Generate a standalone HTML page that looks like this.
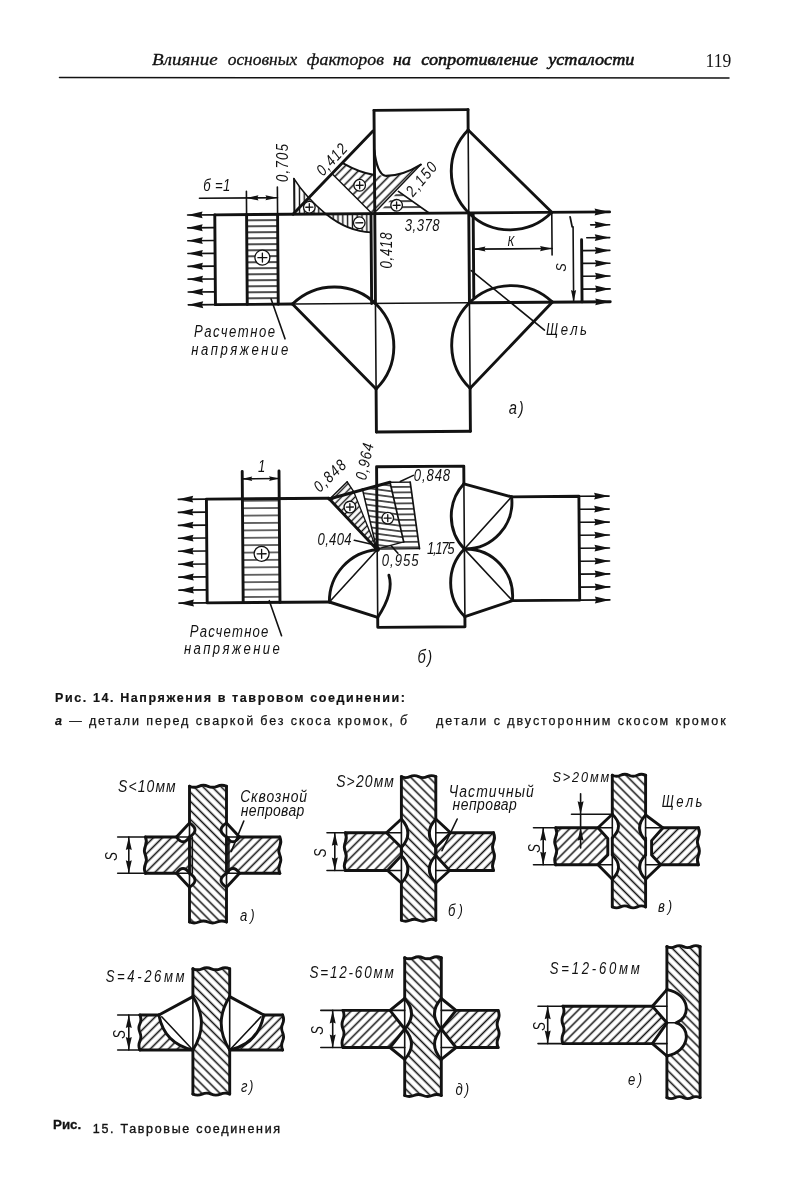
<!DOCTYPE html>
<html><head><meta charset="utf-8">
<style>
html,body{margin:0;padding:0;background:#fff;}
body{width:794px;height:1200px;overflow:hidden;position:relative;}
svg{position:absolute;left:0;top:0;will-change:transform;}
.dr{font-family:"Liberation Sans",sans-serif;font-style:italic;fill:#121212;}
.hd{font-family:"Liberation Serif",serif;font-style:italic;fill:#121212;}
.cap{font-family:"Liberation Sans",sans-serif;fill:#121212;}
</style></head><body>
<svg width="794" height="1200" viewBox="0 0 794 1200">
<g stroke="#121212" stroke-linecap="round" stroke-linejoin="round" fill="none">
<line x1="59.5" y1="77.6" x2="729" y2="77.9" stroke-width="1.5"/>
<defs>
<pattern id="hv" patternUnits="userSpaceOnUse" width="4.8" height="4.8" patternTransform="rotate(0)"><line x1="2.4" y1="0" x2="2.4" y2="4.8" stroke="#121212" stroke-width="1.4"/></pattern>
<pattern id="hh" patternUnits="userSpaceOnUse" width="6.0" height="6.0" patternTransform="rotate(90)"><line x1="3.0" y1="0" x2="3.0" y2="6.0" stroke="#121212" stroke-width="1.5"/></pattern>
<pattern id="hh7" patternUnits="userSpaceOnUse" width="7.4" height="7.4" patternTransform="rotate(90)"><line x1="3.7" y1="0" x2="3.7" y2="7.4" stroke="#121212" stroke-width="1.25"/></pattern>
<pattern id="h45" patternUnits="userSpaceOnUse" width="6.4" height="6.4" patternTransform="rotate(45)"><line x1="3.2" y1="0" x2="3.2" y2="6.4" stroke="#121212" stroke-width="1.55"/></pattern>
<pattern id="h135" patternUnits="userSpaceOnUse" width="6.4" height="6.4" patternTransform="rotate(-45)"><line x1="3.2" y1="0" x2="3.2" y2="6.4" stroke="#121212" stroke-width="1.55"/></pattern>
<pattern id="h45f" patternUnits="userSpaceOnUse" width="6.0" height="6.0" patternTransform="rotate(45)"><line x1="3.0" y1="0" x2="3.0" y2="6.0" stroke="#121212" stroke-width="1.4"/></pattern>
<pattern id="h135f" patternUnits="userSpaceOnUse" width="6.0" height="6.0" patternTransform="rotate(-45)"><line x1="3.0" y1="0" x2="3.0" y2="6.0" stroke="#121212" stroke-width="1.4"/></pattern>
<pattern id="h45s" patternUnits="userSpaceOnUse" width="4.8" height="4.8" patternTransform="rotate(45)"><line x1="2.4" y1="0" x2="2.4" y2="4.8" stroke="#121212" stroke-width="1.4"/></pattern>
<pattern id="hh55" patternUnits="userSpaceOnUse" width="5.5" height="5.5" patternTransform="rotate(90)"><line x1="2.75" y1="0" x2="2.75" y2="5.5" stroke="#121212" stroke-width="1.4"/></pattern>
<pattern id="hh98" patternUnits="userSpaceOnUse" width="5.5" height="5.5" patternTransform="rotate(98)"><line x1="2.75" y1="0" x2="2.75" y2="5.5" stroke="#121212" stroke-width="1.4"/></pattern>
</defs>
<g transform="rotate(-0.43 422 270)">
<rect x="247" y="213.3" width="31" height="89.80000000000001" fill="url(#hh)" stroke="none"/>
<path d="M294.6,177.6 L294.6,213.3 L326.4,213.3 Q306,196 294.6,177.6 Z" fill="url(#hv)" stroke="none"/>
<path d="M326.4,213.3 Q348,231 370.2,232 L371.4,232 L371.4,213.3 Z" fill="url(#hv)" stroke="none"/>
<path d="M333.8,174.2 L344,162.7 Q360,172 375.2,174.6 L375.2,213.3 L372.6,213.3 Z" fill="url(#h45)" stroke="none"/>
<path d="M375.2,174.6 L385.9,175.5 Q403,176 421.6,164.6 L376.9,210.5 L375.2,210.5 Z" fill="url(#h45)" stroke="none"/>
<path d="M378.2,213.3 L399,191.2 L429.8,213.3 Z" fill="url(#hh)" stroke="none"/>
<line x1="375.2" y1="110.0" x2="469.2" y2="110.0" stroke-width="2.9"/>
<line x1="375.2" y1="431.6" x2="469.2" y2="431.6" stroke-width="2.9"/>
<line x1="375.2" y1="110.0" x2="375.2" y2="303.1" stroke-width="2.9"/>
<line x1="375.2" y1="303.1" x2="375.2" y2="388.6" stroke-width="1.6"/>
<line x1="375.2" y1="388.6" x2="375.2" y2="431.6" stroke-width="2.9"/>
<line x1="469.2" y1="110.0" x2="469.2" y2="130.3" stroke-width="2.9"/>
<line x1="469.2" y1="130.3" x2="469.2" y2="213.3" stroke-width="1.6"/>
<line x1="469.2" y1="213.3" x2="469.2" y2="303.1" stroke-width="2.9"/>
<line x1="469.2" y1="303.1" x2="469.2" y2="388.6" stroke-width="1.6"/>
<line x1="469.2" y1="388.6" x2="469.2" y2="431.6" stroke-width="2.9"/>
<line x1="215.2" y1="213.3" x2="610.0" y2="213.3" stroke-width="2.9"/>
<line x1="215.2" y1="303.1" x2="292.2" y2="303.1" stroke-width="2.9"/>
<line x1="292.2" y1="303.1" x2="469.2" y2="303.1" stroke-width="1.6"/>
<line x1="469.2" y1="303.1" x2="610.0" y2="303.1" stroke-width="2.9"/>
<line x1="215.2" y1="213.3" x2="215.2" y2="303.1" stroke-width="2.9"/>
<line x1="371.4" y1="213.3" x2="371.4" y2="303.1" stroke-width="2.9"/>
<line x1="473.6" y1="215.0" x2="473.6" y2="298.0" stroke-width="2.9"/>
<line x1="247.0" y1="213.3" x2="247.0" y2="303.1" stroke-width="2.9"/>
<line x1="278.0" y1="213.3" x2="278.0" y2="303.1" stroke-width="2.9"/>
<line x1="247.0" y1="190.0" x2="247.0" y2="213.3" stroke-width="1.6"/>
<line x1="278.0" y1="186.0" x2="278.0" y2="213.3" stroke-width="1.6"/>
<circle cx="262.5" cy="256.4" r="7.5" fill="#fff" stroke-width="1.3"/>
<line x1="258.0" y1="256.4" x2="267.0" y2="256.4" stroke-width="1.3"/>
<line x1="262.5" y1="251.9" x2="262.5" y2="260.9" stroke-width="1.3"/>
<line x1="188.0" y1="213.3" x2="215.2" y2="213.3" stroke-width="1.6"/>
<path d="M188.0,213.3 L203.0,209.9 L201.8,213.3 L203.0,216.7 Z" fill="#121212" stroke="none"/>
<line x1="188.0" y1="226.1" x2="215.2" y2="226.1" stroke-width="1.6"/>
<path d="M188.0,226.1 L203.0,222.7 L201.8,226.1 L203.0,229.5 Z" fill="#121212" stroke="none"/>
<line x1="188.0" y1="239.0" x2="215.2" y2="239.0" stroke-width="1.6"/>
<path d="M188.0,239.0 L203.0,235.6 L201.8,239.0 L203.0,242.4 Z" fill="#121212" stroke="none"/>
<line x1="188.0" y1="251.8" x2="215.2" y2="251.8" stroke-width="1.6"/>
<path d="M188.0,251.8 L203.0,248.4 L201.8,251.8 L203.0,255.2 Z" fill="#121212" stroke="none"/>
<line x1="188.0" y1="264.6" x2="215.2" y2="264.6" stroke-width="1.6"/>
<path d="M188.0,264.6 L203.0,261.2 L201.8,264.6 L203.0,268.0 Z" fill="#121212" stroke="none"/>
<line x1="188.0" y1="277.4" x2="215.2" y2="277.4" stroke-width="1.6"/>
<path d="M188.0,277.4 L203.0,274.0 L201.8,277.4 L203.0,280.8 Z" fill="#121212" stroke="none"/>
<line x1="188.0" y1="290.3" x2="215.2" y2="290.3" stroke-width="1.6"/>
<path d="M188.0,290.3 L203.0,286.9 L201.8,290.3 L203.0,293.7 Z" fill="#121212" stroke="none"/>
<line x1="188.0" y1="303.1" x2="215.2" y2="303.1" stroke-width="1.6"/>
<path d="M188.0,303.1 L203.0,299.7 L201.8,303.1 L203.0,306.5 Z" fill="#121212" stroke="none"/>
<line x1="200.0" y1="196.6" x2="278.0" y2="196.6" stroke-width="1.6"/>
<path d="M247.0,196.6 L259.0,194.0 L257.8,196.6 L259.0,199.2 Z" fill="#121212" stroke="none"/>
<path d="M278.0,196.6 L266.0,199.2 L267.2,196.6 L266.0,194.0 Z" fill="#121212" stroke="none"/>
<line x1="581.8" y1="241.0" x2="581.8" y2="303.1" stroke-width="2.9"/>
<line x1="552.2" y1="213.3" x2="610.0" y2="213.3" stroke-width="1.6"/>
<path d="M610.0,213.3 L595.0,216.7 L596.2,213.3 L595.0,209.9 Z" fill="#121212" stroke="none"/>
<line x1="591.0" y1="226.1" x2="610.0" y2="226.1" stroke-width="1.6"/>
<path d="M610.0,226.1 L595.0,229.5 L596.2,226.1 L595.0,222.7 Z" fill="#121212" stroke="none"/>
<line x1="587.0" y1="239.0" x2="610.0" y2="239.0" stroke-width="1.6"/>
<path d="M610.0,239.0 L595.0,242.4 L596.2,239.0 L595.0,235.6 Z" fill="#121212" stroke="none"/>
<line x1="581.8" y1="251.8" x2="610.0" y2="251.8" stroke-width="1.6"/>
<path d="M610.0,251.8 L595.0,255.2 L596.2,251.8 L595.0,248.4 Z" fill="#121212" stroke="none"/>
<line x1="581.8" y1="264.6" x2="610.0" y2="264.6" stroke-width="1.6"/>
<path d="M610.0,264.6 L595.0,268.0 L596.2,264.6 L595.0,261.2 Z" fill="#121212" stroke="none"/>
<line x1="581.8" y1="277.4" x2="610.0" y2="277.4" stroke-width="1.6"/>
<path d="M610.0,277.4 L595.0,280.8 L596.2,277.4 L595.0,274.0 Z" fill="#121212" stroke="none"/>
<line x1="581.8" y1="290.3" x2="610.0" y2="290.3" stroke-width="1.6"/>
<path d="M610.0,290.3 L595.0,293.7 L596.2,290.3 L595.0,286.9 Z" fill="#121212" stroke="none"/>
<line x1="581.8" y1="303.1" x2="610.0" y2="303.1" stroke-width="1.6"/>
<path d="M610.0,303.1 L595.0,306.5 L596.2,303.1 L595.0,299.7 Z" fill="#121212" stroke="none"/>
<line x1="552.2" y1="213.3" x2="552.2" y2="256.0" stroke-width="1.6"/>
<line x1="473.6" y1="249.5" x2="552.2" y2="249.5" stroke-width="1.6"/>
<path d="M473.6,249.5 L485.6,246.9 L484.4,249.5 L485.6,252.1 Z" fill="#121212" stroke="none"/>
<path d="M552.2,249.5 L540.2,252.1 L541.4,249.5 L540.2,246.9 Z" fill="#121212" stroke="none"/>
<line x1="573.4" y1="228.0" x2="573.4" y2="303.1" stroke-width="1.6"/>
<path d="M573.4,303.1 L570.8,291.1 L573.4,292.3 L576.0,291.1 Z" fill="#121212" stroke="none"/>
<line x1="570.5" y1="218.0" x2="572.5" y2="228.0" stroke-width="1.8"/>
<line x1="469.2" y1="130.3" x2="552.2" y2="213.3" stroke-width="2.9"/>
<path d="M469.2,130.3 A58.68986283848344,58.68986283848344 0 0 0 552.2,213.3" stroke-width="2.9" fill="none" />
<line x1="469.2" y1="388.6" x2="552.2" y2="303.1" stroke-width="2.9"/>
<path d="M469.2,388.6 A59.58030295324118,59.58030295324118 0 0 1 552.2,303.1" stroke-width="2.9" fill="none" />
<line x1="375.2" y1="388.6" x2="292.2" y2="303.1" stroke-width="2.9"/>
<path d="M375.2,388.6 A59.58030295324118,59.58030295324118 0 0 0 292.2,303.1" stroke-width="2.9" fill="none" />
<line x1="374.0" y1="130.6" x2="293.4" y2="213.3" stroke-width="2.9"/>
<line x1="471.3" y1="270.9" x2="544.0" y2="331.0" stroke-width="1.6"/>
<line x1="270.8" y1="297.7" x2="284.5" y2="337.8" stroke-width="1.6"/>
<line x1="294.6" y1="177.6" x2="294.6" y2="213.3" stroke-width="1.6"/>
<path d="M294.6,177.6 Q306,196 326.4,213.3" stroke-width="1.6" fill="none" />
<circle cx="309.8" cy="206.4" r="5.8" fill="#fff" stroke-width="1.3"/>
<line x1="306.3" y1="206.4" x2="313.3" y2="206.4" stroke-width="1.3"/>
<line x1="309.8" y1="202.9" x2="309.8" y2="209.9" stroke-width="1.3"/>
<path d="M326.4,213.3 Q348,231 371.4,232" stroke-width="1.8" fill="none" />
<circle cx="359.6" cy="222.3" r="5.8" fill="#fff" stroke-width="1.3"/>
<line x1="356.1" y1="222.3" x2="363.1" y2="222.3" stroke-width="1.3"/>
<path d="M344,162.7 Q360,172 375.2,174.6" stroke-width="2.0" fill="none" />
<line x1="333.8" y1="174.2" x2="372.6" y2="213.3" stroke-width="1.4"/>
<circle cx="360.3" cy="184.8" r="5.8" fill="#fff" stroke-width="1.3"/>
<line x1="356.8" y1="184.8" x2="363.8" y2="184.8" stroke-width="1.3"/>
<line x1="360.3" y1="181.3" x2="360.3" y2="188.3" stroke-width="1.3"/>
<path d="M375.2,150 C377,166 380,174 385.9,175.5 Q403,176 421.6,164.6" stroke-width="2.2" fill="none" />
<line x1="421.6" y1="164.6" x2="376.9" y2="210.5" stroke-width="1.4"/>
<line x1="399.0" y1="191.2" x2="429.8" y2="213.3" stroke-width="1.6"/>
<circle cx="397.1" cy="205.1" r="5.8" fill="#fff" stroke-width="1.3"/>
<line x1="393.6" y1="205.1" x2="400.6" y2="205.1" stroke-width="1.3"/>
<line x1="397.1" y1="201.6" x2="397.1" y2="208.6" stroke-width="1.3"/>
</g>
<g transform="rotate(-0.43 422 550)">
<path d="M329.0,497.5 L206.8,497.5 L206.8,601.3 L329.0,601.3" stroke-width="2.9" fill="none" />
<rect x="242.8" y="497.5" width="36.8" height="103.79999999999995" fill="url(#hh7)" stroke="none"/>
<line x1="242.8" y1="470.0" x2="242.8" y2="601.3" stroke-width="2.9"/>
<line x1="279.6" y1="470.0" x2="279.6" y2="601.3" stroke-width="2.9"/>
<circle cx="261.6" cy="552.6" r="7.5" fill="#fff" stroke-width="1.3"/>
<line x1="257.1" y1="552.6" x2="266.1" y2="552.6" stroke-width="1.3"/>
<line x1="261.6" y1="548.1" x2="261.6" y2="557.1" stroke-width="1.3"/>
<line x1="178.6" y1="497.5" x2="206.8" y2="497.5" stroke-width="1.6"/>
<path d="M178.6,497.5 L193.6,494.1 L192.4,497.5 L193.6,500.9 Z" fill="#121212" stroke="none"/>
<line x1="178.6" y1="510.5" x2="206.8" y2="510.5" stroke-width="1.6"/>
<path d="M178.6,510.5 L193.6,507.1 L192.4,510.5 L193.6,513.9 Z" fill="#121212" stroke="none"/>
<line x1="178.6" y1="523.5" x2="206.8" y2="523.5" stroke-width="1.6"/>
<path d="M178.6,523.5 L193.6,520.1 L192.4,523.5 L193.6,526.9 Z" fill="#121212" stroke="none"/>
<line x1="178.6" y1="536.4" x2="206.8" y2="536.4" stroke-width="1.6"/>
<path d="M178.6,536.4 L193.6,533.0 L192.4,536.4 L193.6,539.8 Z" fill="#121212" stroke="none"/>
<line x1="178.6" y1="549.4" x2="206.8" y2="549.4" stroke-width="1.6"/>
<path d="M178.6,549.4 L193.6,546.0 L192.4,549.4 L193.6,552.8 Z" fill="#121212" stroke="none"/>
<line x1="178.6" y1="562.4" x2="206.8" y2="562.4" stroke-width="1.6"/>
<path d="M178.6,562.4 L193.6,559.0 L192.4,562.4 L193.6,565.8 Z" fill="#121212" stroke="none"/>
<line x1="178.6" y1="575.3" x2="206.8" y2="575.3" stroke-width="1.6"/>
<path d="M178.6,575.3 L193.6,571.9 L192.4,575.3 L193.6,578.7 Z" fill="#121212" stroke="none"/>
<line x1="178.6" y1="588.3" x2="206.8" y2="588.3" stroke-width="1.6"/>
<path d="M178.6,588.3 L193.6,584.9 L192.4,588.3 L193.6,591.7 Z" fill="#121212" stroke="none"/>
<line x1="178.6" y1="601.3" x2="206.8" y2="601.3" stroke-width="1.6"/>
<path d="M178.6,601.3 L193.6,597.9 L192.4,601.3 L193.6,604.7 Z" fill="#121212" stroke="none"/>
<line x1="242.8" y1="477.5" x2="279.6" y2="477.5" stroke-width="1.6"/>
<path d="M242.8,477.5 L252.8,475.2 L251.6,477.5 L252.8,479.8 Z" fill="#121212" stroke="none"/>
<path d="M279.6,477.5 L269.6,479.8 L270.8,477.5 L269.6,475.2 Z" fill="#121212" stroke="none"/>
<path d="M377.2,549.4 L377.2,466.4 L464.4,466.4 L464.4,484.1" stroke-width="2.9" fill="none" />
<path d="M377.2,617.0 L377.2,627.0 L464.4,627.0 L464.4,617.0" stroke-width="2.9" fill="none" />
<line x1="377.2" y1="549.4" x2="377.2" y2="617.0" stroke-width="1.6"/>
<line x1="464.4" y1="484.1" x2="464.4" y2="617.0" stroke-width="1.6"/>
<line x1="329.0" y1="497.5" x2="377.2" y2="549.4" stroke-width="2.9"/>
<line x1="329.0" y1="601.3" x2="377.2" y2="617.0" stroke-width="2.9"/>
<line x1="329.0" y1="601.3" x2="377.2" y2="549.4" stroke-width="1.6"/>
<path d="M377.2,549.4 A51.7,51.7 0 0 0 329.0,601.3" stroke-width="2.9" fill="none" />
<path d="M388.7,575 Q394,592 377.2,617" stroke-width="2.9" fill="none" />
<line x1="464.4" y1="484.1" x2="512.0" y2="497.5" stroke-width="2.9"/>
<line x1="464.4" y1="617.0" x2="512.0" y2="601.3" stroke-width="2.9"/>
<line x1="464.4" y1="549.4" x2="512.0" y2="497.5" stroke-width="1.6"/>
<line x1="464.4" y1="549.4" x2="512.0" y2="601.3" stroke-width="1.6"/>
<path d="M464.4,484.1 A47.8,47.8 0 0 0 464.4,549.4" stroke-width="2.9" fill="none" />
<path d="M464.4,549.4 A47.8,47.8 0 0 0 464.4,617.0" stroke-width="2.9" fill="none" />
<path d="M464.4,549.4 A47,47 0 0 0 512.0,497.5" stroke-width="2.9" fill="none" />
<path d="M464.4,549.4 A47,47 0 0 1 512.0,601.3" stroke-width="2.9" fill="none" />
<path d="M512.0,497.5 L579.3,497.5 L579.3,601.3 L512.0,601.3" stroke-width="2.9" fill="none" />
<line x1="579.3" y1="497.5" x2="609.5" y2="497.5" stroke-width="1.6"/>
<path d="M609.5,497.5 L594.5,500.9 L595.7,497.5 L594.5,494.1 Z" fill="#121212" stroke="none"/>
<line x1="579.3" y1="510.5" x2="609.5" y2="510.5" stroke-width="1.6"/>
<path d="M609.5,510.5 L594.5,513.9 L595.7,510.5 L594.5,507.1 Z" fill="#121212" stroke="none"/>
<line x1="579.3" y1="523.5" x2="609.5" y2="523.5" stroke-width="1.6"/>
<path d="M609.5,523.5 L594.5,526.9 L595.7,523.5 L594.5,520.1 Z" fill="#121212" stroke="none"/>
<line x1="579.3" y1="536.4" x2="609.5" y2="536.4" stroke-width="1.6"/>
<path d="M609.5,536.4 L594.5,539.8 L595.7,536.4 L594.5,533.0 Z" fill="#121212" stroke="none"/>
<line x1="579.3" y1="549.4" x2="609.5" y2="549.4" stroke-width="1.6"/>
<path d="M609.5,549.4 L594.5,552.8 L595.7,549.4 L594.5,546.0 Z" fill="#121212" stroke="none"/>
<line x1="579.3" y1="562.4" x2="609.5" y2="562.4" stroke-width="1.6"/>
<path d="M609.5,562.4 L594.5,565.8 L595.7,562.4 L594.5,559.0 Z" fill="#121212" stroke="none"/>
<line x1="579.3" y1="575.3" x2="609.5" y2="575.3" stroke-width="1.6"/>
<path d="M609.5,575.3 L594.5,578.7 L595.7,575.3 L594.5,571.9 Z" fill="#121212" stroke="none"/>
<line x1="579.3" y1="588.3" x2="609.5" y2="588.3" stroke-width="1.6"/>
<path d="M609.5,588.3 L594.5,591.7 L595.7,588.3 L594.5,584.9 Z" fill="#121212" stroke="none"/>
<line x1="579.3" y1="601.3" x2="609.5" y2="601.3" stroke-width="1.6"/>
<path d="M609.5,601.3 L594.5,604.7 L595.7,601.3 L594.5,597.9 Z" fill="#121212" stroke="none"/>
<path d="M329.4,498.3 L347.7,481.3 L354,490.8 L376.7,548.7 Z" fill="url(#h45s)" stroke="none"/>
<path d="M390.5,482 L410.7,482 L419.5,548.7 L376.7,548.7 L403.8,541.8 Z" fill="url(#hh55)" stroke="none"/>
<path d="M362.8,488.5 L390.5,482 L403.8,541.8 L376.7,548.7 Z" fill="url(#hh98)" stroke="none"/>
<line x1="331.3" y1="497.0" x2="347.7" y2="481.3" stroke-width="1.4"/>
<line x1="347.7" y1="481.3" x2="354.0" y2="490.8" stroke-width="1.4"/>
<line x1="354.0" y1="490.8" x2="376.7" y2="548.7" stroke-width="1.3"/>
<line x1="362.8" y1="488.5" x2="376.7" y2="548.7" stroke-width="1.5"/>
<line x1="390.5" y1="482.0" x2="403.8" y2="541.8" stroke-width="1.7"/>
<line x1="403.8" y1="541.8" x2="376.7" y2="548.7" stroke-width="1.3"/>
<line x1="390.5" y1="482.0" x2="410.7" y2="482.0" stroke-width="1.3"/>
<line x1="410.7" y1="482.0" x2="419.5" y2="548.7" stroke-width="1.7"/>
<line x1="376.7" y1="548.7" x2="419.5" y2="548.7" stroke-width="1.3"/>
<line x1="329.4" y1="498.3" x2="390.5" y2="482.0" stroke-width="2.9"/>
<circle cx="350.2" cy="506.5" r="5.8" fill="#fff" stroke-width="1.3"/>
<line x1="346.7" y1="506.5" x2="353.7" y2="506.5" stroke-width="1.3"/>
<line x1="350.2" y1="503.0" x2="350.2" y2="510.0" stroke-width="1.3"/>
<circle cx="388" cy="517.9" r="5.8" fill="#fff" stroke-width="1.3"/>
<line x1="384.5" y1="517.9" x2="391.5" y2="517.9" stroke-width="1.3"/>
<line x1="388.0" y1="514.4" x2="388.0" y2="521.4" stroke-width="1.3"/>
<circle cx="377" cy="548.6" r="3" fill="#121212" stroke="none"/>
<line x1="354.4" y1="539.8" x2="376.0" y2="545.0" stroke-width="1.6"/>
<line x1="400.8" y1="481.3" x2="413.9" y2="475.3" stroke-width="1.6"/>
<line x1="268.9" y1="599.5" x2="280.9" y2="634.6" stroke-width="1.6"/>
</g>
<text x="0" y="0" class="dr" font-size="16" stroke="none" transform="translate(203.3 191) scale(0.82 1)"  textLength="32.93" lengthAdjust="spacing">б =1</text>
<text x="0" y="0" class="dr" font-size="14" stroke="none" transform="translate(507.6 245.5) scale(0.82 1)"  textLength="9.76" lengthAdjust="spacing">К</text>
<text x="0" y="0" class="dr" font-size="15" text-anchor="middle" dominant-baseline="central" stroke="none" transform="translate(561.5 267.3) rotate(-90) scale(0.82 1)" >S</text>
<text x="0" y="0" class="dr" font-size="16" stroke="none" transform="translate(546 335.2) scale(0.82 1)"  textLength="50.00" lengthAdjust="spacing">Щель</text>
<text x="0" y="0" class="dr" font-size="18" stroke="none" transform="translate(508.8 413.9) scale(0.82 1)"  textLength="18.29" lengthAdjust="spacing">а)</text>
<text x="0" y="0" class="dr" font-size="16" stroke="none" transform="translate(194 337.3) scale(0.82 1)"  textLength="98.78" lengthAdjust="spacing">Расчетное</text>
<text x="0" y="0" class="dr" font-size="16" stroke="none" transform="translate(191.2 354.6) scale(0.82 1)"  textLength="118.29" lengthAdjust="spacing">напряжение</text>
<text x="0" y="0" class="dr" font-size="16" text-anchor="middle" dominant-baseline="central" stroke="none" transform="translate(282.5 163) rotate(-90) scale(0.82 1)"  textLength="46.34" lengthAdjust="spacing">0,705</text>
<text x="0" y="0" class="dr" font-size="16" text-anchor="middle" dominant-baseline="central" stroke="none" transform="translate(331.5 159.5) rotate(-47) scale(0.82 1)"  textLength="45.12" lengthAdjust="spacing">0,412</text>
<text x="0" y="0" class="dr" font-size="16" text-anchor="middle" dominant-baseline="central" stroke="none" transform="translate(421.3 179) rotate(-50) scale(0.82 1)"  textLength="47.56" lengthAdjust="spacing">2,150</text>
<text x="0" y="0" class="dr" font-size="16" stroke="none" transform="translate(404.8 230.8) scale(0.82 1)"  textLength="42.44" lengthAdjust="spacing">3,378</text>
<text x="0" y="0" class="dr" font-size="16" text-anchor="middle" dominant-baseline="central" stroke="none" transform="translate(386.5 250.5) rotate(-90) scale(0.82 1)"  textLength="43.90" lengthAdjust="spacing">0,418</text>
<text x="0" y="0" class="dr" font-size="16" stroke="none" transform="translate(258 471.5) scale(0.82 1)"  textLength="7.32" lengthAdjust="spacing">1</text>
<text x="0" y="0" class="dr" font-size="16" stroke="none" transform="translate(317.6 544.8) scale(0.82 1)"  textLength="41.46" lengthAdjust="spacing">0,404</text>
<text x="0" y="0" class="dr" font-size="16" stroke="none" transform="translate(381.8 565.6) scale(0.82 1)"  textLength="44.88" lengthAdjust="spacing">0,955</text>
<text x="0" y="0" class="dr" font-size="16" stroke="none" transform="translate(427.1 554.3) scale(0.82 1)"  textLength="33.41" lengthAdjust="spacing">1,175</text>
<text x="0" y="0" class="dr" font-size="16" text-anchor="middle" dominant-baseline="central" stroke="none" transform="translate(329.7 475.8) rotate(-44) scale(0.82 1)"  textLength="46.34" lengthAdjust="spacing">0,848</text>
<text x="0" y="0" class="dr" font-size="16" text-anchor="middle" dominant-baseline="central" stroke="none" transform="translate(364.5 461.6) rotate(-78) scale(0.82 1)"  textLength="45.12" lengthAdjust="spacing">0,964</text>
<text x="0" y="0" class="dr" font-size="16" stroke="none" transform="translate(413.8 481.3) scale(0.82 1)"  textLength="44.27" lengthAdjust="spacing">0,848</text>
<text x="0" y="0" class="dr" font-size="16" stroke="none" transform="translate(189.8 637.3) scale(0.82 1)"  textLength="95.85" lengthAdjust="spacing">Расчетное</text>
<text x="0" y="0" class="dr" font-size="16" stroke="none" transform="translate(183.9 654.3) scale(0.82 1)"  textLength="117.07" lengthAdjust="spacing">напряжение</text>
<text x="0" y="0" class="dr" font-size="18" stroke="none" transform="translate(417.4 662.5) scale(0.82 1)"  textLength="17.93" lengthAdjust="spacing">б)</text>
<line x1="391.2" y1="545.8" x2="397.9" y2="553.3" stroke-width="1.6"/>
<path d="M145.4,837.0 L189.5,837.0 L189.5,873.3 L145.4,873.3 Z" fill="url(#h45)" stroke="none"/>
<path d="M226.5,837.0 L279.8,837.0 L279.8,873.3 L226.5,873.3 Z" fill="url(#h45)" stroke="none"/>
<rect x="189.5" y="786.3" width="37.0" height="135.70000000000005" fill="url(#h135)" stroke="none"/>
<path d="M189.5,786.3 Q194.1,788.3 198.8,786.3 Q203.4,784.3 208.0,786.3 Q212.6,788.3 217.2,786.3 Q221.9,784.3 226.5,786.3" stroke-width="2.9" fill="none" />
<path d="M189.5,922.0 Q194.1,924.0 198.8,922.0 Q203.4,920.0 208.0,922.0 Q212.6,924.0 217.2,922.0 Q221.9,920.0 226.5,922.0" stroke-width="2.9" fill="none" />
<path d="M176.5,837.0 L189.5,823.0 L189.5,837.0 Z" fill="#fff" stroke="none"/>
<path d="M189.5,823.0 Q200.5,830.0 189.5,837.0 Z" fill="#fff" stroke="none"/>
<path d="M189.5,823.0 Q200.5,830.0 189.5,837.0" stroke-width="2.9" fill="none" />
<line x1="189.5" y1="823.0" x2="189.5" y2="837.0" stroke-width="1.6"/>
<path d="M176.5,837.0 Q183.0,846.6 189.5,837.0 Z" fill="#fff" stroke="none"/>
<path d="M176.5,837.0 Q183.0,846.6 189.5,837.0" stroke-width="2.9" fill="none" />
<line x1="176.5" y1="837.0" x2="189.5" y2="837.0" stroke-width="1.6"/>
<line x1="176.5" y1="837.0" x2="189.5" y2="823.0" stroke-width="2.9"/>
<path d="M176.5,873.3 L189.5,887.3 L189.5,873.3 Z" fill="#fff" stroke="none"/>
<path d="M189.5,887.3 Q200.5,880.3 189.5,873.3 Z" fill="#fff" stroke="none"/>
<path d="M189.5,887.3 Q200.5,880.3 189.5,873.3" stroke-width="2.9" fill="none" />
<line x1="189.5" y1="887.3" x2="189.5" y2="873.3" stroke-width="1.6"/>
<path d="M176.5,873.3 Q183.0,863.7 189.5,873.3 Z" fill="#fff" stroke="none"/>
<path d="M176.5,873.3 Q183.0,863.7 189.5,873.3" stroke-width="2.9" fill="none" />
<line x1="176.5" y1="873.3" x2="189.5" y2="873.3" stroke-width="1.6"/>
<line x1="176.5" y1="873.3" x2="189.5" y2="887.3" stroke-width="2.9"/>
<path d="M239.5,837.0 L226.5,823.0 L226.5,837.0 Z" fill="#fff" stroke="none"/>
<path d="M226.5,823.0 Q215.5,830.0 226.5,837.0 Z" fill="#fff" stroke="none"/>
<path d="M226.5,823.0 Q215.5,830.0 226.5,837.0" stroke-width="2.9" fill="none" />
<line x1="226.5" y1="823.0" x2="226.5" y2="837.0" stroke-width="1.6"/>
<path d="M239.5,837.0 Q233.0,846.6 226.5,837.0 Z" fill="#fff" stroke="none"/>
<path d="M239.5,837.0 Q233.0,846.6 226.5,837.0" stroke-width="2.9" fill="none" />
<line x1="239.5" y1="837.0" x2="226.5" y2="837.0" stroke-width="1.6"/>
<line x1="239.5" y1="837.0" x2="226.5" y2="823.0" stroke-width="2.9"/>
<path d="M239.5,873.3 L226.5,887.3 L226.5,873.3 Z" fill="#fff" stroke="none"/>
<path d="M226.5,887.3 Q215.5,880.3 226.5,873.3 Z" fill="#fff" stroke="none"/>
<path d="M226.5,887.3 Q215.5,880.3 226.5,873.3" stroke-width="2.9" fill="none" />
<line x1="226.5" y1="887.3" x2="226.5" y2="873.3" stroke-width="1.6"/>
<path d="M239.5,873.3 Q233.0,863.7 226.5,873.3 Z" fill="#fff" stroke="none"/>
<path d="M239.5,873.3 Q233.0,863.7 226.5,873.3" stroke-width="2.9" fill="none" />
<line x1="239.5" y1="873.3" x2="226.5" y2="873.3" stroke-width="1.6"/>
<line x1="239.5" y1="873.3" x2="226.5" y2="887.3" stroke-width="2.9"/>
<line x1="189.5" y1="786.3" x2="189.5" y2="823.0" stroke-width="2.9"/>
<line x1="189.5" y1="837.0" x2="189.5" y2="873.3" stroke-width="2.9"/>
<line x1="189.5" y1="887.3" x2="189.5" y2="922.0" stroke-width="2.9"/>
<line x1="226.5" y1="786.3" x2="226.5" y2="823.0" stroke-width="2.9"/>
<line x1="226.5" y1="837.0" x2="226.5" y2="873.3" stroke-width="2.9"/>
<line x1="226.5" y1="887.3" x2="226.5" y2="922.0" stroke-width="2.9"/>
<line x1="192.3" y1="837.0" x2="192.3" y2="873.3" stroke-width="1.6"/>
<line x1="228.9" y1="837.0" x2="228.9" y2="873.3" stroke-width="1.6"/>
<line x1="145.4" y1="837.0" x2="176.5" y2="837.0" stroke-width="2.9"/>
<line x1="145.4" y1="873.3" x2="176.5" y2="873.3" stroke-width="2.9"/>
<line x1="239.5" y1="837.0" x2="279.8" y2="837.0" stroke-width="2.9"/>
<line x1="239.5" y1="873.3" x2="279.8" y2="873.3" stroke-width="2.9"/>
<path d="M145.4,837.0 Q147.4,841.5 145.4,846.1 Q143.4,850.6 145.4,855.1 Q147.4,859.7 145.4,864.2 Q143.4,868.8 145.4,873.3" stroke-width="2.9" fill="none" />
<path d="M279.8,837.0 Q281.8,841.5 279.8,846.1 Q277.8,850.6 279.8,855.1 Q281.8,859.7 279.8,864.2 Q277.8,868.8 279.8,873.3" stroke-width="2.9" fill="none" />
<line x1="117.7" y1="837.0" x2="145.4" y2="837.0" stroke-width="1.6"/>
<line x1="117.7" y1="873.3" x2="145.4" y2="873.3" stroke-width="1.6"/>
<line x1="128.8" y1="837.0" x2="128.8" y2="873.3" stroke-width="1.6"/>
<path d="M128.8,837.0 L131.8,850.0 L128.8,848.8 L125.8,850.0 Z" fill="#121212" stroke="none"/>
<path d="M128.8,873.3 L125.8,860.3 L128.8,861.5 L131.8,860.3 Z" fill="#121212" stroke="none"/>
<text x="0" y="0" class="dr" font-size="16" text-anchor="middle" dominant-baseline="central" stroke="none" transform="translate(112 856.5) rotate(-90) scale(0.82 1)" >S</text>
<text x="0" y="0" class="dr" font-size="17" stroke="none" transform="translate(118.1 791.7) scale(0.82 1)"  textLength="70.12" lengthAdjust="spacing">S&lt;10мм</text>
<text x="0" y="0" class="dr" font-size="17" stroke="none" transform="translate(240.2 801.5) scale(0.82 1)"  textLength="81.59" lengthAdjust="spacing">Сквозной</text>
<text x="0" y="0" class="dr" font-size="17" stroke="none" transform="translate(240.8 816.3) scale(0.82 1)"  textLength="77.44" lengthAdjust="spacing">непровар</text>
<line x1="243.8" y1="821.0" x2="231.3" y2="851.4" stroke-width="1.6"/>
<text x="0" y="0" class="dr" font-size="16" stroke="none" transform="translate(240.1 921.2) scale(0.82 1)"  textLength="17.80" lengthAdjust="spacing">а)</text>
<path d="M345.3,832.8 L386.5,832.8 L401.4,847.5 L401.4,855.5 L387.5,870.5 L345.3,870.5 Z" fill="url(#h45)" stroke="none"/>
<path d="M493.5,832.8 L450.6,832.8 L435.8,847.5 L435.8,855.5 L449.6,870.5 L493.5,870.5 Z" fill="url(#h45)" stroke="none"/>
<rect x="401.4" y="776.6" width="34.400000000000034" height="143.60000000000002" fill="url(#h135)" stroke="none"/>
<path d="M401.4,776.6 Q405.7,778.6 410.0,776.6 Q414.3,774.6 418.6,776.6 Q422.9,778.6 427.2,776.6 Q431.5,774.6 435.8,776.6" stroke-width="2.9" fill="none" />
<path d="M401.4,920.2 Q405.7,922.2 410.0,920.2 Q414.3,918.2 418.6,920.2 Q422.9,922.2 427.2,920.2 Q431.5,918.2 435.8,920.2" stroke-width="2.9" fill="none" />
<path d="M401.4,819.0 Q414.4,833.2 401.4,847.5 Z" fill="#fff" stroke="none"/>
<path d="M401.4,819.0 Q414.4,833.2 401.4,847.5" stroke-width="2.9" fill="none" />
<line x1="401.4" y1="819.0" x2="401.4" y2="847.5" stroke-width="1.6"/>
<path d="M401.4,855.5 Q414.4,869.2 401.4,883.0 Z" fill="#fff" stroke="none"/>
<path d="M401.4,855.5 Q414.4,869.2 401.4,883.0" stroke-width="2.9" fill="none" />
<line x1="401.4" y1="855.5" x2="401.4" y2="883.0" stroke-width="1.6"/>
<line x1="386.5" y1="832.8" x2="401.4" y2="819.0" stroke-width="2.9"/>
<line x1="387.5" y1="870.5" x2="401.4" y2="883.0" stroke-width="2.9"/>
<line x1="386.5" y1="832.8" x2="401.4" y2="832.8" stroke-width="1.6"/>
<line x1="387.5" y1="870.5" x2="401.4" y2="870.5" stroke-width="1.6"/>
<path d="M435.8,819.0 Q422.8,833.2 435.8,847.5 Z" fill="#fff" stroke="none"/>
<path d="M435.8,819.0 Q422.8,833.2 435.8,847.5" stroke-width="2.9" fill="none" />
<line x1="435.8" y1="819.0" x2="435.8" y2="847.5" stroke-width="1.6"/>
<path d="M435.8,855.5 Q422.8,869.2 435.8,883.0 Z" fill="#fff" stroke="none"/>
<path d="M435.8,855.5 Q422.8,869.2 435.8,883.0" stroke-width="2.9" fill="none" />
<line x1="435.8" y1="855.5" x2="435.8" y2="883.0" stroke-width="1.6"/>
<line x1="450.6" y1="832.8" x2="435.8" y2="819.0" stroke-width="2.9"/>
<line x1="449.6" y1="870.5" x2="435.8" y2="883.0" stroke-width="2.9"/>
<line x1="450.6" y1="832.8" x2="435.8" y2="832.8" stroke-width="1.6"/>
<line x1="449.6" y1="870.5" x2="435.8" y2="870.5" stroke-width="1.6"/>
<path d="M345.3,832.8 L386.5,832.8 L401.4,847.5 L401.4,855.5 L387.5,870.5 L345.3,870.5" stroke-width="2.9" fill="none" />
<path d="M345.3,832.8 Q347.3,837.5 345.3,842.2 Q343.3,846.9 345.3,851.6 Q347.3,856.4 345.3,861.1 Q343.3,865.8 345.3,870.5" stroke-width="2.9" fill="none" />
<path d="M493.5,832.8 L450.6,832.8 L435.8,847.5 L435.8,855.5 L449.6,870.5 L493.5,870.5" stroke-width="2.9" fill="none" />
<path d="M493.5,832.8 Q495.5,837.5 493.5,842.2 Q491.5,846.9 493.5,851.6 Q495.5,856.4 493.5,861.1 Q491.5,865.8 493.5,870.5" stroke-width="2.9" fill="none" />
<line x1="401.4" y1="776.6" x2="401.4" y2="819.0" stroke-width="2.9"/>
<line x1="401.4" y1="883.0" x2="401.4" y2="920.2" stroke-width="2.9"/>
<line x1="401.4" y1="847.5" x2="401.4" y2="855.5" stroke-width="2.9"/>
<line x1="435.8" y1="776.6" x2="435.8" y2="819.0" stroke-width="2.9"/>
<line x1="435.8" y1="883.0" x2="435.8" y2="920.2" stroke-width="2.9"/>
<line x1="435.8" y1="847.5" x2="435.8" y2="855.5" stroke-width="2.9"/>
<line x1="327.0" y1="832.8" x2="345.3" y2="832.8" stroke-width="1.6"/>
<line x1="327.0" y1="870.5" x2="345.3" y2="870.5" stroke-width="1.6"/>
<line x1="334.8" y1="832.8" x2="334.8" y2="870.5" stroke-width="1.6"/>
<path d="M334.8,832.8 L337.8,845.8 L334.8,844.6 L331.8,845.8 Z" fill="#121212" stroke="none"/>
<path d="M334.8,870.5 L331.8,857.5 L334.8,858.7 L337.8,857.5 Z" fill="#121212" stroke="none"/>
<text x="0" y="0" class="dr" font-size="16" text-anchor="middle" dominant-baseline="central" stroke="none" transform="translate(321 853.0) rotate(-90) scale(0.82 1)" >S</text>
<text x="0" y="0" class="dr" font-size="17" stroke="none" transform="translate(336.2 787.2) scale(0.82 1)"  textLength="70.37" lengthAdjust="spacing">S&gt;20мм</text>
<text x="0" y="0" class="dr" font-size="17" stroke="none" transform="translate(448.8 797) scale(0.82 1)"  textLength="103.66" lengthAdjust="spacing">Частичный</text>
<text x="0" y="0" class="dr" font-size="17" stroke="none" transform="translate(452.6 809.6) scale(0.82 1)"  textLength="78.29" lengthAdjust="spacing">непровар</text>
<line x1="457.2" y1="819.0" x2="442.0" y2="850.7" stroke-width="1.6"/>
<text x="0" y="0" class="dr" font-size="16" stroke="none" transform="translate(448 916.2) scale(0.82 1)"  textLength="18.29" lengthAdjust="spacing">б)</text>
<path d="M555.7,827.8 L598.0,827.8 L607.8,838.4 L607.8,855.0 L598.0,864.8 L555.7,864.8 Z" fill="url(#h45)" stroke="none"/>
<path d="M698.4,827.8 L663.0,827.8 L651.6,840.6 L651.6,855.0 L660.7,864.8 L698.4,864.8 Z" fill="url(#h45)" stroke="none"/>
<rect x="612.3" y="775.2" width="33.30000000000007" height="131.69999999999993" fill="url(#h135)" stroke="none"/>
<path d="M612.3,775.2 Q616.5,777.2 620.6,775.2 Q624.8,773.2 629.0,775.2 Q633.1,777.2 637.3,775.2 Q641.4,773.2 645.6,775.2" stroke-width="2.9" fill="none" />
<path d="M612.3,906.9 Q616.5,908.9 620.6,906.9 Q624.8,904.9 629.0,906.9 Q633.1,908.9 637.3,906.9 Q641.4,904.9 645.6,906.9" stroke-width="2.9" fill="none" />
<path d="M598.0,827.8 L612.3,814.2 L612.3,879.2 L598.0,864.8 L607.8,855.0 L607.8,838.4 Z" fill="#fff" stroke="none"/>
<path d="M663.0,827.8 L645.6,815.0 L645.6,879.2 L660.7,864.8 L651.6,855.0 L651.6,840.6 Z" fill="#fff" stroke="none"/>
<path d="M612.3,814.2 Q624.7,826.1 612.3,838.0 Z" fill="#fff" stroke="none"/>
<path d="M612.3,814.2 Q624.7,826.1 612.3,838.0" stroke-width="2.9" fill="none" />
<line x1="612.3" y1="814.2" x2="612.3" y2="838.0" stroke-width="1.6"/>
<path d="M612.3,855.0 Q624.7,867.1 612.3,879.2 Z" fill="#fff" stroke="none"/>
<path d="M612.3,855.0 Q624.7,867.1 612.3,879.2" stroke-width="2.9" fill="none" />
<line x1="612.3" y1="855.0" x2="612.3" y2="879.2" stroke-width="1.6"/>
<path d="M645.6,815.0 Q633.6,827.8 645.6,840.6 Z" fill="#fff" stroke="none"/>
<path d="M645.6,815.0 Q633.6,827.8 645.6,840.6" stroke-width="2.9" fill="none" />
<line x1="645.6" y1="815.0" x2="645.6" y2="840.6" stroke-width="1.6"/>
<path d="M645.6,855.0 Q633.6,867.1 645.6,879.2 Z" fill="#fff" stroke="none"/>
<path d="M645.6,855.0 Q633.6,867.1 645.6,879.2" stroke-width="2.9" fill="none" />
<line x1="645.6" y1="855.0" x2="645.6" y2="879.2" stroke-width="1.6"/>
<line x1="598.0" y1="827.8" x2="612.3" y2="814.2" stroke-width="2.9"/>
<line x1="598.0" y1="864.8" x2="612.3" y2="879.2" stroke-width="2.9"/>
<line x1="645.6" y1="815.0" x2="663.0" y2="827.8" stroke-width="2.9"/>
<line x1="645.6" y1="879.2" x2="660.7" y2="864.8" stroke-width="2.9"/>
<line x1="598.0" y1="827.8" x2="612.3" y2="827.8" stroke-width="1.6"/>
<line x1="598.0" y1="864.8" x2="612.3" y2="864.8" stroke-width="1.6"/>
<line x1="663.0" y1="827.8" x2="645.6" y2="827.8" stroke-width="1.6"/>
<line x1="660.7" y1="864.8" x2="645.6" y2="864.8" stroke-width="1.6"/>
<path d="M555.7,827.8 L598.0,827.8 L607.8,838.4 L607.8,855.0 L598.0,864.8 L555.7,864.8" stroke-width="2.9" fill="none" />
<path d="M555.7,827.8 Q557.7,832.4 555.7,837.0 Q553.7,841.7 555.7,846.3 Q557.7,850.9 555.7,855.5 Q553.7,860.2 555.7,864.8" stroke-width="2.9" fill="none" />
<path d="M698.4,827.8 L663.0,827.8 L651.6,840.6 L651.6,855.0 L660.7,864.8 L698.4,864.8" stroke-width="2.9" fill="none" />
<path d="M698.4,827.8 Q700.4,832.4 698.4,837.0 Q696.4,841.7 698.4,846.3 Q700.4,850.9 698.4,855.5 Q696.4,860.2 698.4,864.8" stroke-width="2.9" fill="none" />
<line x1="612.3" y1="775.2" x2="612.3" y2="814.2" stroke-width="2.9"/>
<line x1="612.3" y1="879.2" x2="612.3" y2="906.9" stroke-width="2.9"/>
<line x1="612.3" y1="838.0" x2="612.3" y2="855.0" stroke-width="2.9"/>
<line x1="645.6" y1="775.2" x2="645.6" y2="815.0" stroke-width="2.9"/>
<line x1="645.6" y1="879.2" x2="645.6" y2="906.9" stroke-width="2.9"/>
<line x1="645.6" y1="838.0" x2="645.6" y2="855.0" stroke-width="2.9"/>
<line x1="533.5" y1="827.8" x2="555.7" y2="827.8" stroke-width="1.6"/>
<line x1="533.5" y1="864.8" x2="555.7" y2="864.8" stroke-width="1.6"/>
<line x1="543.2" y1="827.8" x2="543.2" y2="864.8" stroke-width="1.6"/>
<path d="M543.2,827.8 L546.2,840.8 L543.2,839.6 L540.2,840.8 Z" fill="#121212" stroke="none"/>
<path d="M543.2,864.8 L540.2,851.8 L543.2,853.0 L546.2,851.8 Z" fill="#121212" stroke="none"/>
<text x="0" y="0" class="dr" font-size="16" text-anchor="middle" dominant-baseline="central" stroke="none" transform="translate(535 848.5) rotate(-90) scale(0.82 1)" >S</text>
<line x1="571.5" y1="814.2" x2="612.3" y2="814.2" stroke-width="1.6"/>
<line x1="580.6" y1="793.8" x2="580.6" y2="848.0" stroke-width="1.6"/>
<path d="M580.6,814.2 L577.6,801.2 L580.6,802.4 L583.6,801.2 Z" fill="#121212" stroke="none"/>
<path d="M580.6,827.8 L583.6,840.8 L580.6,839.6 L577.6,840.8 Z" fill="#121212" stroke="none"/>
<text x="0" y="0" class="dr" font-size="15.5" stroke="none" transform="translate(552.5 782.1) scale(0.82 1)"  textLength="69.15" lengthAdjust="spacing">S&gt;20мм</text>
<text x="0" y="0" class="dr" font-size="16" stroke="none" transform="translate(661.7 806.8) scale(0.82 1)"  textLength="49.63" lengthAdjust="spacing">Щель</text>
<text x="0" y="0" class="dr" font-size="16" stroke="none" transform="translate(658 911.5) scale(0.82 1)"  textLength="17.07" lengthAdjust="spacing">в)</text>
<path d="M139.9,1015.0 L158.9,1015.0 Q164.1,1043.5 192.9,1050.0 L139.9,1050.0 Z" fill="url(#h45)" stroke="none"/>
<path d="M282.6,1015.0 L263.7,1015.0 Q258.5,1043.5 229.7,1050.0 L282.6,1050.0 Z" fill="url(#h45)" stroke="none"/>
<rect x="192.9" y="968.8" width="36.79999999999998" height="125.29999999999995" fill="url(#h135)" stroke="none"/>
<path d="M192.9,968.8 Q197.5,970.8 202.1,968.8 Q206.7,966.8 211.3,968.8 Q215.9,970.8 220.5,968.8 Q225.1,966.8 229.7,968.8" stroke-width="2.9" fill="none" />
<path d="M192.9,1094.1 Q197.5,1096.1 202.1,1094.1 Q206.7,1092.1 211.3,1094.1 Q215.9,1096.1 220.5,1094.1 Q225.1,1092.1 229.7,1094.1" stroke-width="2.9" fill="none" />
<path d="M192.9,996.6 Q209.9,1023.3 192.9,1050.0 Z" fill="#fff" stroke="none"/>
<path d="M192.9,996.6 Q209.9,1023.3 192.9,1050.0" stroke-width="2.9" fill="none" />
<line x1="192.9" y1="996.6" x2="192.9" y2="1050.0" stroke-width="1.6"/>
<path d="M229.7,996.6 Q212.7,1023.3 229.7,1050.0 Z" fill="#fff" stroke="none"/>
<path d="M229.7,996.6 Q212.7,1023.3 229.7,1050.0" stroke-width="2.9" fill="none" />
<line x1="229.7" y1="996.6" x2="229.7" y2="1050.0" stroke-width="1.6"/>
<path d="M192.9,1050.0 L139.9,1050.0 M139.9,1015.0 L158.9,1015.0" stroke-width="2.9" fill="none" />
<path d="M229.7,1050.0 L282.6,1050.0 M282.6,1015.0 L263.7,1015.0" stroke-width="2.9" fill="none" />
<path d="M139.9,1015.0 Q141.9,1019.4 139.9,1023.8 Q137.9,1028.1 139.9,1032.5 Q141.9,1036.9 139.9,1041.2 Q137.9,1045.6 139.9,1050.0" stroke-width="2.9" fill="none" />
<path d="M282.6,1015.0 Q284.6,1019.4 282.6,1023.8 Q280.6,1028.1 282.6,1032.5 Q284.6,1036.9 282.6,1041.2 Q280.6,1045.6 282.6,1050.0" stroke-width="2.9" fill="none" />
<path d="M158.9,1015.0 Q164.1,1043.5 192.9,1050.0" stroke-width="2.9" fill="none" />
<path d="M263.7,1015.0 Q258.5,1043.5 229.7,1050.0" stroke-width="2.9" fill="none" />
<line x1="158.9" y1="1015.0" x2="192.9" y2="996.6" stroke-width="2.9"/>
<line x1="263.7" y1="1015.0" x2="229.7" y2="996.6" stroke-width="2.9"/>
<line x1="161.7" y1="1016.8" x2="192.9" y2="1050.0" stroke-width="1.6"/>
<line x1="261.0" y1="1016.8" x2="229.7" y2="1050.0" stroke-width="1.6"/>
<line x1="192.9" y1="968.8" x2="192.9" y2="996.6" stroke-width="2.9"/>
<line x1="192.9" y1="1050.0" x2="192.9" y2="1094.1" stroke-width="2.9"/>
<line x1="229.7" y1="968.8" x2="229.7" y2="996.6" stroke-width="2.9"/>
<line x1="229.7" y1="1050.0" x2="229.7" y2="1094.1" stroke-width="2.9"/>
<line x1="117.7" y1="1015.0" x2="139.9" y2="1015.0" stroke-width="1.6"/>
<line x1="117.7" y1="1050.0" x2="139.9" y2="1050.0" stroke-width="1.6"/>
<line x1="128.8" y1="1015.0" x2="128.8" y2="1050.0" stroke-width="1.6"/>
<path d="M128.8,1015.0 L131.8,1028.0 L128.8,1026.8 L125.8,1028.0 Z" fill="#121212" stroke="none"/>
<path d="M128.8,1050.0 L125.8,1037.0 L128.8,1038.2 L131.8,1037.0 Z" fill="#121212" stroke="none"/>
<text x="0" y="0" class="dr" font-size="16" text-anchor="middle" dominant-baseline="central" stroke="none" transform="translate(119.3 1034.5) rotate(-90) scale(0.82 1)" >S</text>
<text x="0" y="0" class="dr" font-size="16" stroke="none" transform="translate(105.7 981.8) scale(0.82 1)"  textLength="96.10" lengthAdjust="spacing">S=4-26мм</text>
<text x="0" y="0" class="dr" font-size="16" stroke="none" transform="translate(241 1092) scale(0.82 1)"  textLength="15.24" lengthAdjust="spacing">г)</text>
<path d="M343.0,1010.4 L390.0,1010.4 L404.7,1029.0 L390.0,1047.5 L343.0,1047.5 Z" fill="url(#h45)" stroke="none"/>
<path d="M498.1,1010.4 L456.0,1010.4 L441.3,1029.0 L456.0,1047.5 L498.1,1047.5 Z" fill="url(#h45)" stroke="none"/>
<rect x="404.7" y="957.8" width="36.60000000000002" height="137.70000000000005" fill="url(#h135)" stroke="none"/>
<path d="M404.7,957.8 Q409.3,959.8 413.9,957.8 Q418.4,955.8 423.0,957.8 Q427.6,959.8 432.1,957.8 Q436.7,955.8 441.3,957.8" stroke-width="2.9" fill="none" />
<path d="M404.7,1095.5 Q409.3,1097.5 413.9,1095.5 Q418.4,1093.5 423.0,1095.5 Q427.6,1097.5 432.1,1095.5 Q436.7,1093.5 441.3,1095.5" stroke-width="2.9" fill="none" />
<path d="M404.7,998.5 Q418.3,1013.8 404.7,1029.0 Z" fill="#fff" stroke="none"/>
<path d="M404.7,998.5 Q418.3,1013.8 404.7,1029.0" stroke-width="2.9" fill="none" />
<line x1="404.7" y1="998.5" x2="404.7" y2="1029.0" stroke-width="1.6"/>
<path d="M404.7,1029.0 Q418.3,1044.2 404.7,1059.4 Z" fill="#fff" stroke="none"/>
<path d="M404.7,1029.0 Q418.3,1044.2 404.7,1059.4" stroke-width="2.9" fill="none" />
<line x1="404.7" y1="1029.0" x2="404.7" y2="1059.4" stroke-width="1.6"/>
<line x1="390.0" y1="1010.4" x2="404.7" y2="998.5" stroke-width="2.9"/>
<line x1="390.0" y1="1047.5" x2="404.7" y2="1059.4" stroke-width="2.9"/>
<line x1="390.0" y1="1010.4" x2="404.7" y2="1010.4" stroke-width="1.6"/>
<line x1="390.0" y1="1047.5" x2="404.7" y2="1047.5" stroke-width="1.6"/>
<path d="M441.3,998.5 Q427.7,1013.8 441.3,1029.0 Z" fill="#fff" stroke="none"/>
<path d="M441.3,998.5 Q427.7,1013.8 441.3,1029.0" stroke-width="2.9" fill="none" />
<line x1="441.3" y1="998.5" x2="441.3" y2="1029.0" stroke-width="1.6"/>
<path d="M441.3,1029.0 Q427.7,1044.2 441.3,1059.4 Z" fill="#fff" stroke="none"/>
<path d="M441.3,1029.0 Q427.7,1044.2 441.3,1059.4" stroke-width="2.9" fill="none" />
<line x1="441.3" y1="1029.0" x2="441.3" y2="1059.4" stroke-width="1.6"/>
<line x1="456.0" y1="1010.4" x2="441.3" y2="998.5" stroke-width="2.9"/>
<line x1="456.0" y1="1047.5" x2="441.3" y2="1059.4" stroke-width="2.9"/>
<line x1="456.0" y1="1010.4" x2="441.3" y2="1010.4" stroke-width="1.6"/>
<line x1="456.0" y1="1047.5" x2="441.3" y2="1047.5" stroke-width="1.6"/>
<path d="M343.0,1010.4 L390.0,1010.4 L404.7,1029.0 L390.0,1047.5 L343.0,1047.5" stroke-width="2.9" fill="none" />
<path d="M343.0,1010.4 Q345.0,1015.0 343.0,1019.7 Q341.0,1024.3 343.0,1029.0 Q345.0,1033.6 343.0,1038.2 Q341.0,1042.9 343.0,1047.5" stroke-width="2.9" fill="none" />
<path d="M498.1,1010.4 L456.0,1010.4 L441.3,1029.0 L456.0,1047.5 L498.1,1047.5" stroke-width="2.9" fill="none" />
<path d="M498.1,1010.4 Q500.1,1015.0 498.1,1019.7 Q496.1,1024.3 498.1,1029.0 Q500.1,1033.6 498.1,1038.2 Q496.1,1042.9 498.1,1047.5" stroke-width="2.9" fill="none" />
<line x1="404.7" y1="957.8" x2="404.7" y2="998.5" stroke-width="2.9"/>
<line x1="404.7" y1="1059.4" x2="404.7" y2="1095.5" stroke-width="2.9"/>
<line x1="441.3" y1="957.8" x2="441.3" y2="998.5" stroke-width="2.9"/>
<line x1="441.3" y1="1059.4" x2="441.3" y2="1095.5" stroke-width="2.9"/>
<line x1="320.8" y1="1010.4" x2="343.0" y2="1010.4" stroke-width="1.6"/>
<line x1="320.8" y1="1047.5" x2="343.0" y2="1047.5" stroke-width="1.6"/>
<line x1="332.7" y1="1010.4" x2="332.7" y2="1047.5" stroke-width="1.6"/>
<path d="M332.7,1010.4 L335.7,1023.4 L332.7,1022.2 L329.7,1023.4 Z" fill="#121212" stroke="none"/>
<path d="M332.7,1047.5 L329.7,1034.5 L332.7,1035.7 L335.7,1034.5 Z" fill="#121212" stroke="none"/>
<text x="0" y="0" class="dr" font-size="16" text-anchor="middle" dominant-baseline="central" stroke="none" transform="translate(318 1030.5) rotate(-90) scale(0.82 1)" >S</text>
<text x="0" y="0" class="dr" font-size="16.5" stroke="none" transform="translate(309.4 978.2) scale(0.82 1)"  textLength="102.93" lengthAdjust="spacing">S=12-60мм</text>
<text x="0" y="0" class="dr" font-size="16" stroke="none" transform="translate(455.4 1094.7) scale(0.82 1)"  textLength="16.83" lengthAdjust="spacing">д)</text>
<rect x="666.9" y="946.6" width="33.200000000000045" height="150.9999999999999" fill="url(#h135)" stroke="none"/>
<path d="M666.9,946.6 Q671.0,948.6 675.2,946.6 Q679.4,944.6 683.5,946.6 Q687.6,948.6 691.8,946.6 Q696.0,944.6 700.1,946.6" stroke-width="2.9" fill="none" />
<path d="M666.9,1097.6 Q671.0,1099.6 675.2,1097.6 Q679.4,1095.6 683.5,1097.6 Q687.6,1099.6 691.8,1097.6 Q696.0,1095.6 700.1,1097.6" stroke-width="2.9" fill="none" />
<path d="M652.4,1006.2 L563.0,1006.2 L563.0,1043.6 L652.4,1043.6 L666.9,1022.8 Z" fill="url(#h45)" stroke="none"/>
<path d="M666.9,989.6 C691,994 691,1018 676,1022.8 C691,1027 691,1051 666.9,1056 Z" fill="#fff" stroke="none"/>
<path d="M666.9,989.6 C691,994 691,1018 676,1022.8 C691,1027 691,1051 666.9,1056" stroke-width="2.9" fill="none" />
<line x1="666.9" y1="1022.8" x2="676.0" y2="1022.8" stroke-width="1.6"/>
<path d="M666.9,1022.8 L652.4,1006.2 L563.0,1006.2 M563.0,1043.6 L652.4,1043.6 L666.9,1022.8" stroke-width="2.9" fill="none" />
<path d="M563.0,1006.2 Q565.0,1010.9 563.0,1015.5 Q561.0,1020.2 563.0,1024.9 Q565.0,1029.6 563.0,1034.2 Q561.0,1038.9 563.0,1043.6" stroke-width="2.9" fill="none" />
<line x1="652.4" y1="1006.2" x2="666.9" y2="989.6" stroke-width="2.9"/>
<line x1="652.4" y1="1043.6" x2="666.9" y2="1056.0" stroke-width="2.9"/>
<line x1="652.4" y1="1006.2" x2="666.9" y2="1006.2" stroke-width="1.6"/>
<line x1="652.4" y1="1043.6" x2="666.9" y2="1043.6" stroke-width="1.6"/>
<line x1="666.9" y1="989.6" x2="666.9" y2="1056.0" stroke-width="1.6"/>
<line x1="700.1" y1="946.6" x2="700.1" y2="1097.6" stroke-width="2.9"/>
<line x1="666.9" y1="946.6" x2="666.9" y2="989.6" stroke-width="2.9"/>
<line x1="666.9" y1="1056.0" x2="666.9" y2="1097.6" stroke-width="2.9"/>
<line x1="538.0" y1="1006.2" x2="563.0" y2="1006.2" stroke-width="1.6"/>
<line x1="538.0" y1="1043.6" x2="563.0" y2="1043.6" stroke-width="1.6"/>
<line x1="547.7" y1="1006.2" x2="547.7" y2="1043.6" stroke-width="1.6"/>
<path d="M547.7,1006.2 L550.7,1019.2 L547.7,1018.0 L544.7,1019.2 Z" fill="#121212" stroke="none"/>
<path d="M547.7,1043.6 L544.7,1030.6 L547.7,1031.8 L550.7,1030.6 Z" fill="#121212" stroke="none"/>
<text x="0" y="0" class="dr" font-size="16" text-anchor="middle" dominant-baseline="central" stroke="none" transform="translate(539.6 1026.5) rotate(-90) scale(0.82 1)" >S</text>
<text x="0" y="0" class="dr" font-size="16" stroke="none" transform="translate(549.7 973.7) scale(0.82 1)"  textLength="109.88" lengthAdjust="spacing">S=12-60мм</text>
<text x="0" y="0" class="dr" font-size="16" stroke="none" transform="translate(628 1084.5) scale(0.82 1)"  textLength="17.07" lengthAdjust="spacing">е)</text>
</g>
<text x="152.1" y="64.8" class="hd" font-size="17.5" stroke="#121212" stroke-width="0.3" textLength="65.5" lengthAdjust="spacingAndGlyphs">Влияние</text>
<text x="227.7" y="64.8" class="hd" font-size="17.5" stroke="#121212" stroke-width="0.3" textLength="69.5" lengthAdjust="spacingAndGlyphs">основных</text>
<text x="306.8" y="64.8" class="hd" font-size="17.5" stroke="#121212" stroke-width="0.3" textLength="77.1" lengthAdjust="spacingAndGlyphs">факторов</text>
<text x="393" y="64.8" class="hd" font-size="17.5" stroke="#121212" stroke-width="0.55" textLength="18.0" lengthAdjust="spacingAndGlyphs">на</text>
<text x="421.3" y="64.8" class="hd" font-size="17.5" stroke="#121212" stroke-width="0.55" textLength="116.7" lengthAdjust="spacingAndGlyphs">сопротивление</text>
<text x="548.2" y="64.8" class="hd" font-size="17.5" stroke="#121212" stroke-width="0.55" textLength="86.2" lengthAdjust="spacingAndGlyphs">усталости</text>

<text x="55" y="702" class="cap" font-size="12.5" font-weight="bold" textLength="350" lengthAdjust="spacing" stroke="#121212" stroke-width="0.2">Рис. 14. Напряжения в тавровом соединении:</text>
<text x="55" y="725" class="cap" font-size="12.5" stroke="#121212" stroke-width="0.25" textLength="352" lengthAdjust="spacing"><tspan font-style="italic" font-weight="bold">а</tspan> — детали перед сваркой без скоса кромок, <tspan font-family="Liberation Serif" font-style="italic" font-size="14">б</tspan></text>
<text x="436" y="725" class="cap" font-size="12.5" stroke="#121212" stroke-width="0.25" textLength="289.6" lengthAdjust="spacing">детали с двусторонним скосом кромок</text>
<text x="53" y="1129" class="cap" font-size="13" font-weight="bold" stroke="#121212" stroke-width="0.3" textLength="28.2" lengthAdjust="spacingAndGlyphs">Рис.</text>
<text x="92.8" y="1133.2" class="cap" font-size="12.5" stroke="#121212" stroke-width="0.35" textLength="187.3" lengthAdjust="spacing">15. Тавровые соединения</text>
<text x="705.6" y="66.8" font-family="Liberation Serif" font-size="18.5" fill="#121212" textLength="25.7" lengthAdjust="spacingAndGlyphs">119</text>
</svg>
</body></html>
